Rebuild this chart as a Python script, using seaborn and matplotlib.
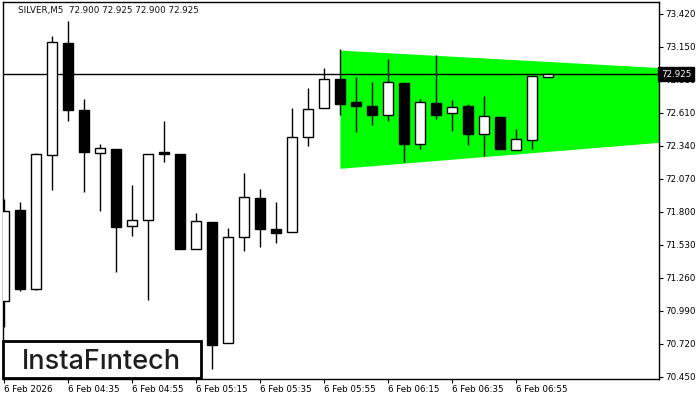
import matplotlib
matplotlib.use("Agg")
import matplotlib.pyplot as plt
import numpy as np
import pandas as pd
import seaborn as sns
from matplotlib.patches import Rectangle

# M5 candles (oldest first)
opens = [71.065, 71.817, 71.171, 72.263, 73.176, 72.632, 72.279, 72.314, 71.684, 71.733,
         72.284, 72.273, 71.491, 71.719, 70.725, 71.594, 71.912, 71.660, 71.635, 72.409,
         72.646, 72.885, 72.697, 72.665, 72.589, 72.852, 72.352, 72.687, 72.605, 72.665,
         72.431, 72.572, 72.300, 72.385, 72.900]
highs = [71.907, 71.882, 72.279, 73.235, 73.357, 72.722, 72.355, 72.314, 72.021, 72.271,
         72.542, 72.273, 71.792, 71.719, 71.668, 72.116, 71.986, 71.882, 72.648, 72.811,
         72.974, 73.129, 72.901, 72.860, 73.045, 72.852, 72.719, 73.080, 72.713, 72.681,
         72.744, 72.572, 72.477, 72.907, 72.925]
lows = [70.855, 71.151, 71.159, 71.974, 72.545, 71.958, 71.801, 71.309, 71.599, 71.078,
        72.202, 71.491, 71.491, 70.513, 70.725, 71.477, 71.510, 71.542, 71.635, 72.333,
        72.646, 72.591, 72.453, 72.512, 72.545, 72.202, 72.308, 72.561, 72.463, 72.341,
        72.251, 72.308, 72.300, 72.308, 72.900]
closes = [71.803, 71.171, 72.271, 73.184, 72.634, 72.284, 72.320, 71.673, 71.733, 72.271,
          72.268, 71.491, 71.725, 70.711, 71.594, 71.920, 71.656, 71.624, 72.409, 72.638,
          72.882, 72.683, 72.667, 72.594, 72.858, 72.357, 72.695, 72.594, 72.654, 72.431,
          72.581, 72.308, 72.393, 72.907, 72.925]

time_labels = ["6 Feb 2026", "6 Feb 04:35", "6 Feb 04:55", "6 Feb 05:15", "6 Feb 05:35",
               "6 Feb 05:55", "6 Feb 06:15", "6 Feb 06:35", "6 Feb 06:55"]
price_ticks = [70.450, 70.720, 70.990, 71.260, 71.530, 71.800, 72.070, 72.340,
               72.610, 72.880, 73.150, 73.420]
last_price = 72.925
title_text = "SILVER,M5  72.900 72.925 72.900 72.925"

# symmetrical triangle pattern (candle index, upper edge, lower edge)
triangle_index = [21, 41]
triangle_upper = [73.121, 72.978]
triangle_lower = [72.154, 72.367]

sns.set_style("white")
plt.rcParams["font.family"] = ["DejaVu Sans"]

candles = pd.DataFrame({"open": opens, "high": highs, "low": lows, "close": closes})
candles["pos"] = np.arange(len(candles))
rising = candles["close"] >= candles["open"]

fig = plt.figure(figsize=(7, 4), dpi=100)
ax = fig.add_axes([0.0036, 0.0525, 0.9383, 0.9418])

ax.fill_between(triangle_index, triangle_lower, triangle_upper, color="#00ff00", lw=0, zorder=1)
ax.axhline(last_price, color="black", lw=1.0, zorder=2)

ax.vlines(candles["pos"], candles["low"], candles["high"], color="black", lw=1.0, zorder=3)
ax.bar(candles["pos"], (candles["close"] - candles["open"]).abs(),
       bottom=candles[["open", "close"]].min(axis=1), width=0.64,
       color=np.where(rising, "white", "black"), edgecolor="black", lw=1.0, zorder=4)

ax.set_xlim(-0.094, 40.97)
ax.set_ylim(70.431, 73.512)

ax.yaxis.tick_right()
ax.set_yticks(price_ticks)
ax.set_yticklabels([f"{p:.3f}" for p in price_ticks])
ax.set_xticks(np.arange(len(time_labels)) * 4)
ax.set_xticklabels(time_labels, ha="left")
ax.tick_params(axis="both", direction="out", length=3, width=0.8, colors="black",
               labelsize=6.3, pad=1.5)
ax.tick_params(axis="y", left=False, right=True)
ax.tick_params(axis="x", bottom=True)
for side in ax.spines.values():
    side.set_color("black")
    side.set_linewidth(1.0)

# current price marker on the scale (covers part of the 72.880 label, as in MT4)
ax.text(1.0025, last_price, f"{last_price:.3f}", transform=ax.get_yaxis_transform(),
        ha="left", va="center", fontsize=6.3, color="white", zorder=10, clip_on=False,
        bbox=dict(boxstyle="square,pad=0.3", facecolor="black", edgecolor="black"))

fig.text(18 / 700, 1 - 11 / 400, title_text, ha="left", va="center", fontsize=6.3, color="#101018")

# logo box bottom-left
fig.add_artist(Rectangle((3 / 700, 22 / 400), 198 / 700, 37 / 400, transform=fig.transFigure,
                         facecolor="white", edgecolor="black", lw=2.0, zorder=20))
fig.text(101.5 / 700, 1 - 369 / 400, "InstaFıntech", ha="center", va="baseline",
         fontsize=19.5, fontweight="medium", family=["Inter", "DejaVu Sans"],
         color="#1e1e1e", zorder=21)

fig.savefig("out.png", dpi=100)
